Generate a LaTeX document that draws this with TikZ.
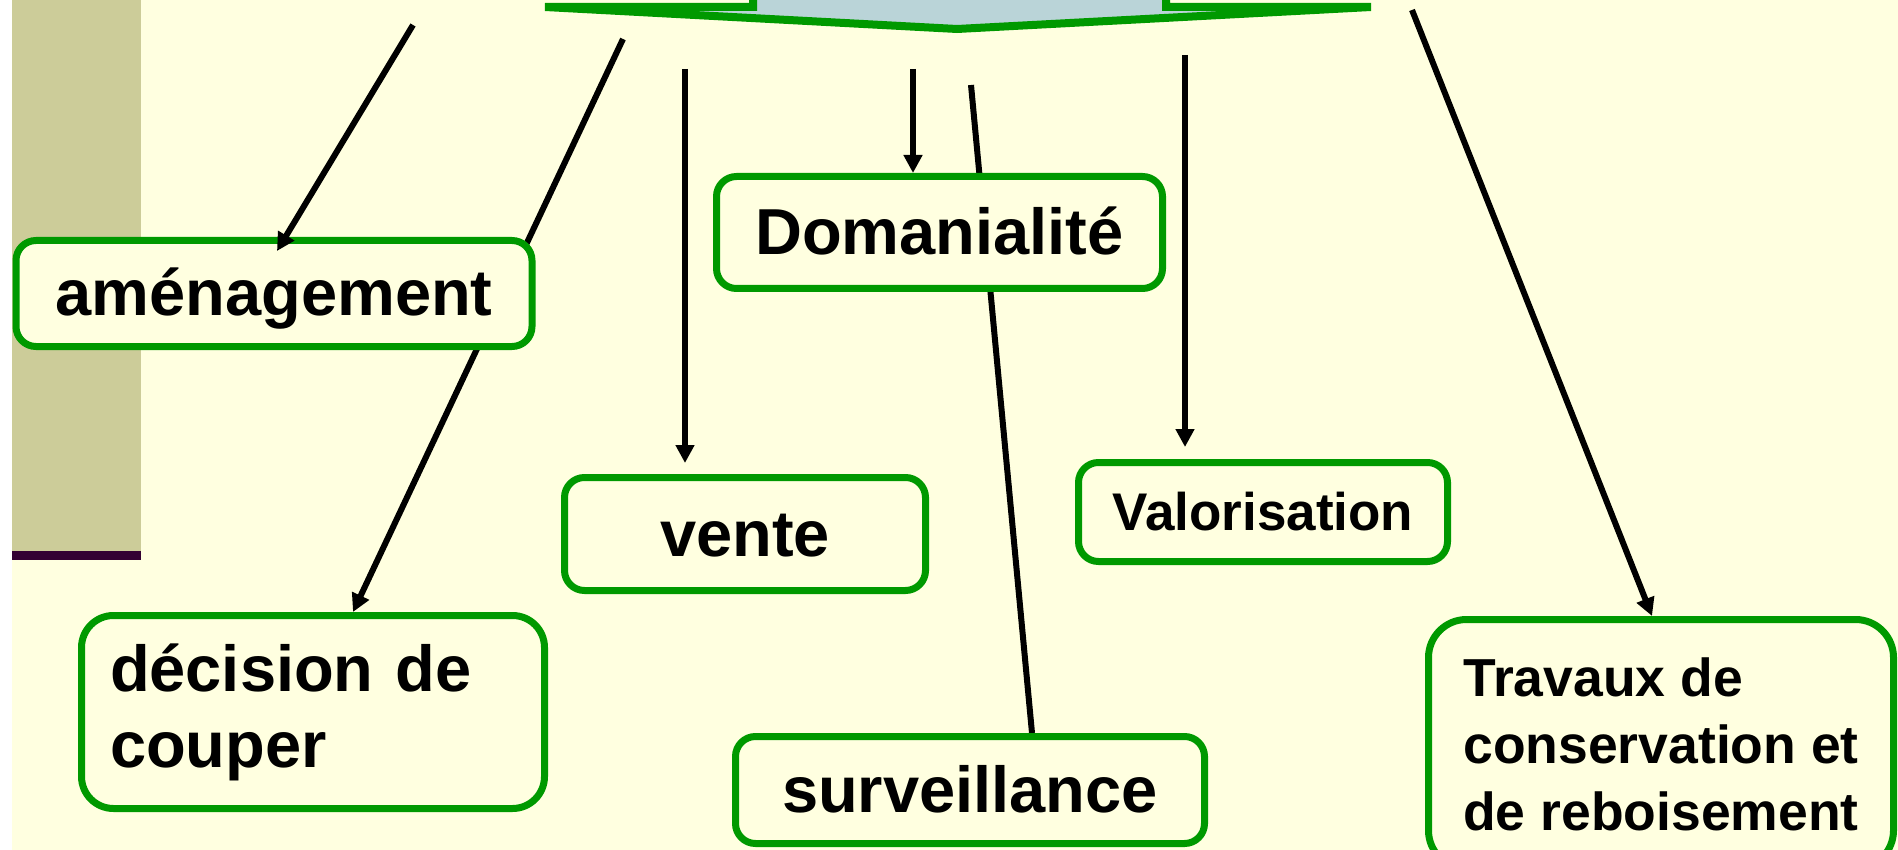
\documentclass[tikz,border=0pt]{standalone}
\usepackage{fontspec}
\setmainfont{Liberation Sans}
\usepackage{tikz}
\usetikzlibrary{arrows.meta, backgrounds}
\tikzset{>={Triangle[width=18pt,length=18pt]}}
\definecolor{slidebg}{HTML}{FFFFE0}
\definecolor{barolive}{HTML}{CCCC99}
\definecolor{barpurple}{HTML}{330033}
\definecolor{boxgreen}{HTML}{009900}
\definecolor{calloutblue}{HTML}{BAD4D8}

\begin{document}
\begin{tikzpicture}[x=1pt, y=-1pt, box/.style={draw=boxgreen, line width=7pt, fill=slidebg, rounded corners=20pt, inner sep=0pt, font=\bfseries\fontsize{65}{75}\selectfont, text height=59pt, text depth=14pt}, smallbox/.style={box, font=\bfseries\fontsize{53}{64}\selectfont, text height=48pt, text depth=11pt}, tallbox/.style={draw=boxgreen, line width=7pt, fill=slidebg, rounded corners=32pt, inner sep=0pt, align=left}, link/.style={line width=6pt}]
    \useasboundingbox (0,0) rectangle (1898,850);

    %Nodes
    \node[box, minimum width=516, minimum height=106](amenagement) at (274,293.5) {aménagement};
    \node[box, minimum width=446, minimum height=112](domanialite) at (939.5,232.5) {Domanialité};
    \node[box, minimum width=361, minimum height=113](vente) at (745,534) {vente};
    \node[smallbox, minimum width=369, minimum height=99](valorisation) at (1263,512) {Valorisation};
    \node[box, minimum width=469, minimum height=107](surveillance) at (970,790) {surveillance};
    \node[tallbox, text width=406, inner xsep=28.5pt, minimum height=193, font=\bfseries\fontsize{65}{76}\selectfont](decision) at (313,712) {décision de\\couper};
    \node[tallbox, rounded corners=38pt, minimum width=465, minimum height=249, font=\bfseries\fontsize{53.5}{67}\selectfont](travaux) at (1661,744) {Travaux de\\conservation et\\de reboisement};

    %Start points
    \coordinate (amTop) at (413,25);
    \coordinate (decTop) at (623,39);
    \coordinate (venteTop) at (685,69);
    \coordinate (domTop) at (913,69);
    \coordinate (survTop) at (971,85);
    \coordinate (valTop) at (1185,55);
    \coordinate (travTop) at (1412,10);

    %Lines
    \draw[link,->] (amTop) -- ([shift={(3,14)}]amenagement.north);
    \draw[link,->, shorten >=11pt] (venteTop) -- (venteTop |- vente.north);
    \draw[link,->] (domTop) -- (domTop |- domanialite.north);
    \draw[link,->, shorten >=12pt] (valTop) -- (valTop |- valorisation.north);
    \draw[link,->] (travTop) -- ([xshift=-9pt]travaux.north);

    \begin{scope}[on background layer]
        %Slide
        \fill[white] (0,0) rectangle (1898,850);
        \fill[slidebg] (12,0) rectangle (1898,850);
        \fill[barolive] (12,0) rectangle (141,551);
        \fill[barpurple] (12,551) rectangle (141,560);
        %Callout
        \draw[draw=boxgreen, fill=calloutblue, line width=8pt] (753,-30) -- (753,7) -- (545,7) -- (957,29) -- (1371,7) -- (1166,7) -- (1166,-30) -- cycle;

        %Lines behind the boxes
        \draw[link,->] (decTop) -- ([xshift=40pt]decision.north);
        \draw[link] (survTop) -- ([xshift=62pt]surveillance.north);
    \end{scope}
\end{tikzpicture}
\end{document}
